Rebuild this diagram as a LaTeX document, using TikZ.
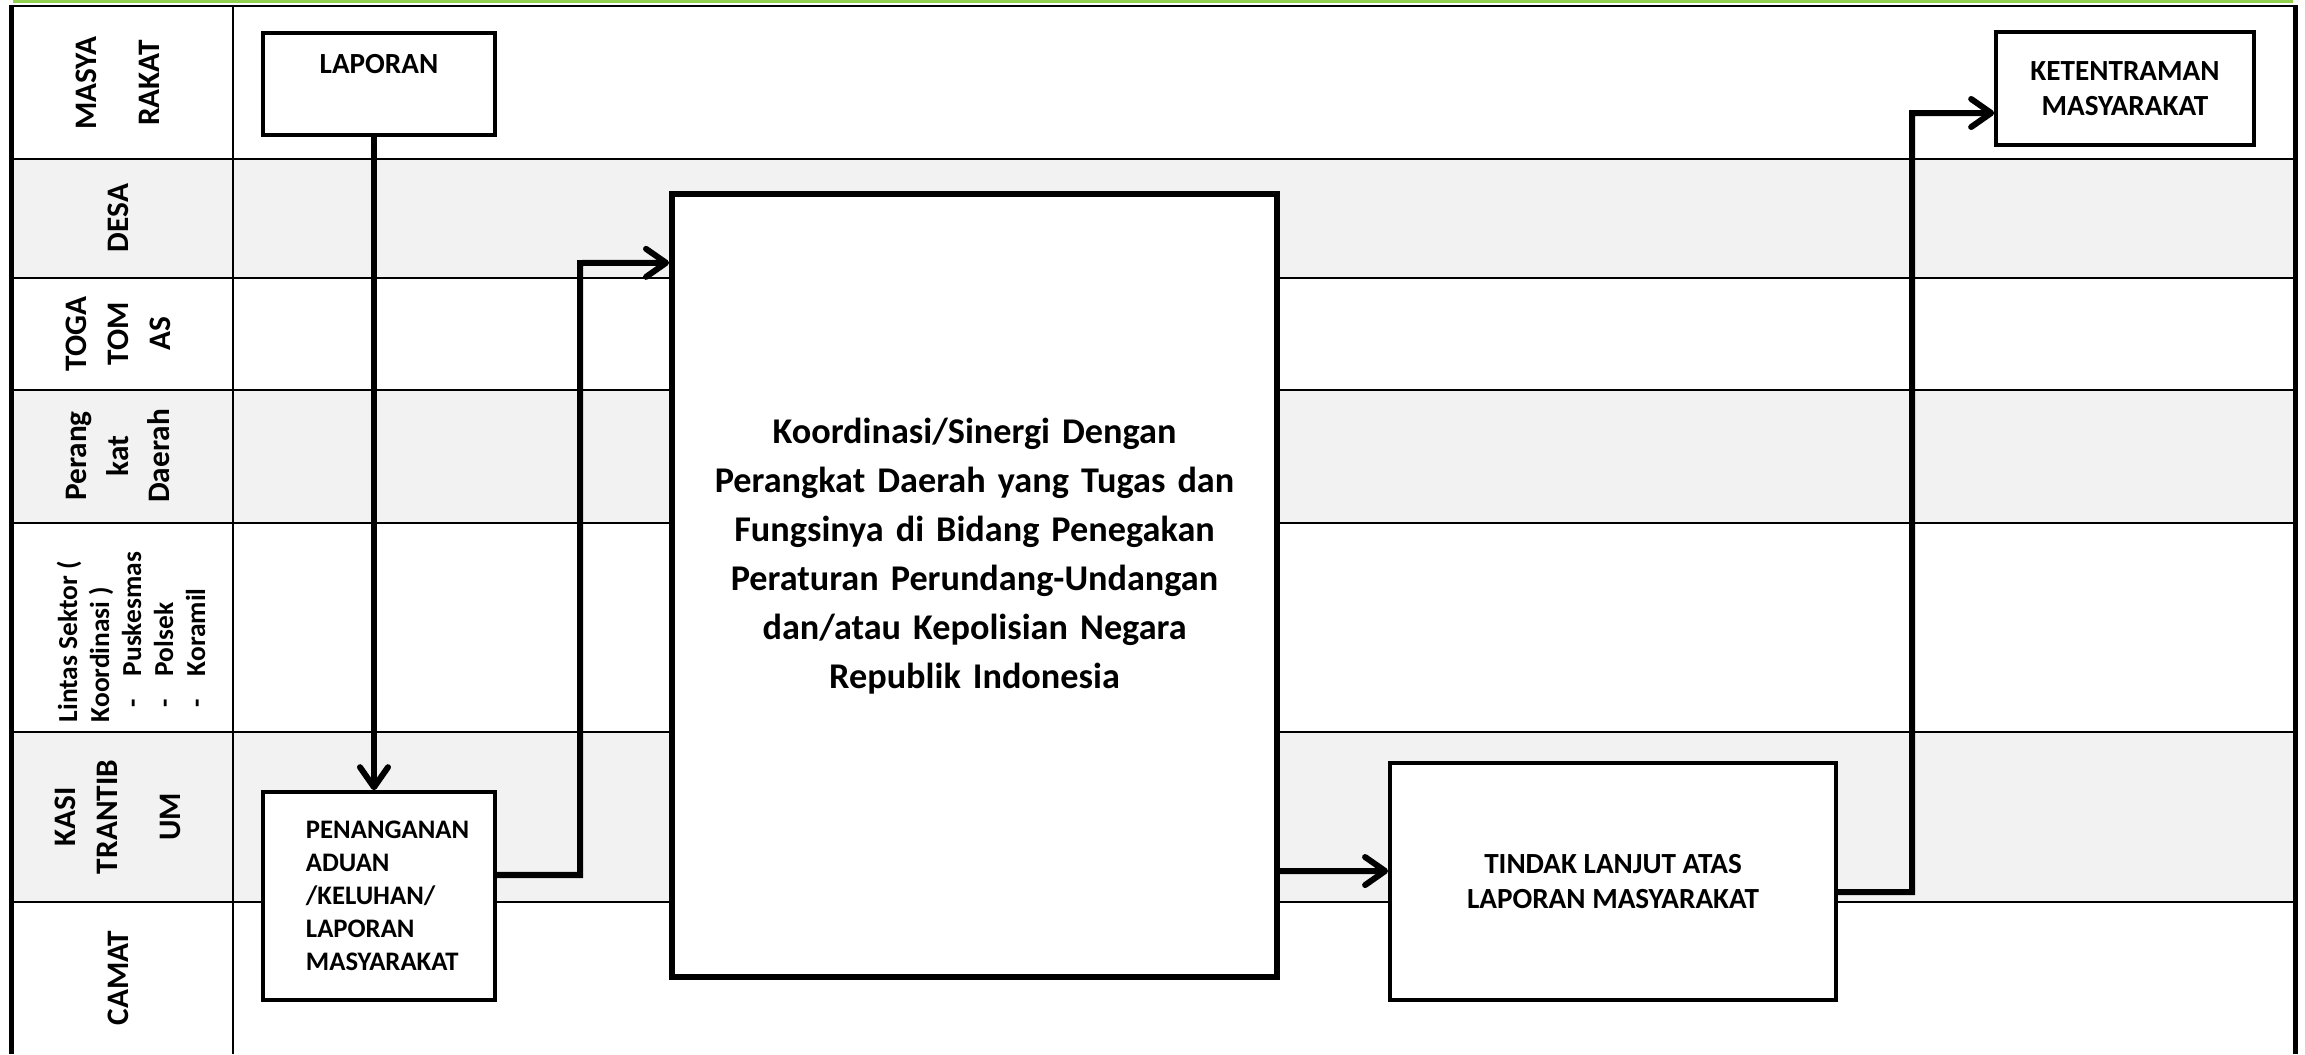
\documentclass[tikz,border=0pt]{standalone}
\usepackage{fontspec}
\setmainfont{Carlito}
\usetikzlibrary{arrows.meta}
\definecolor{lanegrey}{HTML}{F2F2F2}
\definecolor{topgreen}{HTML}{92D050}

\begin{document}
\begin{tikzpicture}[
    x=0.01cm, y=-0.01cm,
    lane/.style={fill=lanegrey},
    laneline/.style={line width=0.02cm},
    border/.style={line width=0.05cm},
    lanelabel/.style={rotate=90,align=center,inner sep=0,font={\bfseries\fontsize{8.9}{11.9}\selectfont}},
    box/.style={rectangle,draw=black,fill=white,line width=0.035cm,align=center,font={\bfseries\fontsize{8.3}{10}\selectfont}},
    bigbox/.style={rectangle,draw=black,fill=white,line width=0.055cm},
    bigtext/.style={align=center,text width=5.9cm,font={\bfseries\fontsize{10.3}{13.9}\selectfont}},
    flow/.style={line width=0.06cm,-{Straight Barb[length=0.2cm,width=0.28cm,round]}}]
    \useasboundingbox (0,0) rectangle (2305,1054);
    \fill[lane] (13,159) rectangle (2293,278);
    \fill[lane] (13,390) rectangle (2293,523);
    \fill[lane] (13,732) rectangle (2293,902);
    \foreach \y in {159,278,390,523,732,902}
        \draw[laneline] (13,\y) -- (2293,\y);
    \draw[laneline] (233,6) -- (233,1054);
    \draw[line width=0.027cm,topgreen] (13,1.4) -- (2293,1.4);
    \draw[line width=0.023cm] (13,6.2) -- (2293,6.2);
    \draw[border] (11.7,5) -- (11.7,1054);
    \draw[border] (2295.5,5) -- (2295.5,1054);
    \node[lanelabel] (masyarakat) at (118,83) {MASYA\\[0.21cm]RAKAT};
    \node[lanelabel] (desa) at (118,218) {DESA};
    \node[lanelabel] (togatomas) at (118,334) {TOGA\\TOM\\AS};
    \node[lanelabel] (perangkat) at (118,456) {Perang\\kat\\Daerah};
    \node[lanelabel, align=left, anchor=west, font={\bfseries\fontsize{7.8}{9.1}\selectfont}] (lintas) at (131,723)
        {Lintas Sektor (\\Koordinasi )\\\makebox[0.46cm][l]{\hspace{0.15cm}-}Puskesmas\\\makebox[0.46cm][l]{\hspace{0.15cm}-}Polsek\\\makebox[0.46cm][l]{\hspace{0.15cm}-}Koramil};
    \node[lanelabel] (kasi) at (118,817) {KASI\\TRANTIB\\[0.21cm]UM};
    \node[lanelabel] (camat) at (118,978) {CAMAT};
    \node[box, minimum width=2.32cm, inner ysep=0, text height=0.41cm, text depth=0.61cm] (laporan) at (379,84) {LAPORAN};
    \node[box, minimum width=2.32cm, minimum height=2.08cm, text width=1.46cm, align=left, font={\bfseries\fontsize{7.6}{9.4}\selectfont}] (penanganan) at (379,896)
        {PENANGANAN\\ADUAN\\/KELUHAN/\\LAPORAN\\MASYARAKAT};
    \node[bigbox, minimum width=6.05cm, minimum height=7.83cm] (koordinasi) at (974.5,585.5) {};
    \node[bigtext] (koordinasi-text) at (974.5,556)
        {Koordinasi/Sinergi Dengan\\Perangkat Daerah yang Tugas dan\\Fungsinya di Bidang Penegakan\\Peraturan Perundang-Undangan\\dan/atau Kepolisian Negara\\Republik Indonesia};
    \node[box, minimum width=4.46cm, minimum height=2.37cm] (tindak) at (1613,881.5) {TINDAK LANJUT ATAS\\LAPORAN MASYARAKAT};
    \node[box, minimum width=2.58cm, minimum height=1.13cm] (ketentraman) at (2125,88.5) {KETENTRAMAN\\MASYARAKAT};
    \draw[flow] ([xshift=-0.05cm]laporan.south) -- ([xshift=-0.05cm]penanganan.north);
    \draw[flow] ([yshift=0.21cm]penanganan.east) -| (580,263) -- ([yshift=3.225cm]koordinasi.west);
    \draw[flow] ([yshift=-2.855cm]koordinasi.east) -- ([yshift=0.105cm]tindak.west);
    \draw[flow] ([yshift=-0.105cm]tindak.east) -| (1912,113) -- ([yshift=-0.245cm]ketentraman.west);
\end{tikzpicture}
\end{document}
